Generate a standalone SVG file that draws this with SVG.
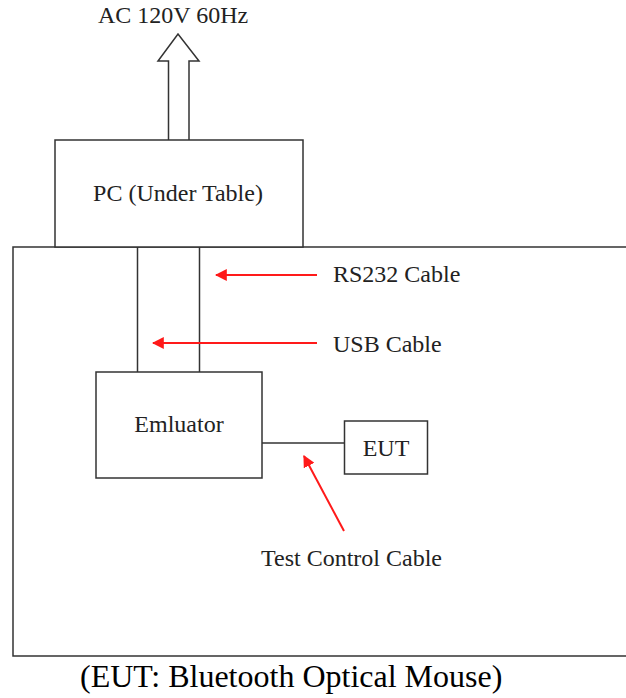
<svg xmlns="http://www.w3.org/2000/svg" width="626" height="698" viewBox="0 0 626 698">
  <style>
    .box { fill: #fff; stroke: #333; stroke-width: 1.5; }
    .wire { fill: none; stroke: #333; stroke-width: 1.5; }
    .lbl { font-family: "Liberation Serif", "Times New Roman", serif; font-size: 24px; fill: #222; }
    .cap { font-family: "Liberation Serif", "Times New Roman", serif; font-size: 32px; fill: #000; }
    .ptr { fill: none; stroke: #ff1a1a; stroke-width: 2; }
  </style>
  <defs>
    <marker id="redhead" viewBox="0 0 10 10" refX="9" refY="5" markerWidth="6" markerHeight="6" markerUnits="strokeWidth" orient="auto">
      <path d="M0,0 L10,5 L0,10 Z" fill="#ff1a1a"/>
    </marker>
  </defs>

  <!-- test room enclosure (open to the right) -->
  <g id="room">
    <path class="wire" d="M640,247 H13 V656 H640"/>
  </g>

  <!-- mains supply arrow -->
  <g id="ac-supply">
    <path class="box" d="M168.5,140 V61 H158 L178,34 L199,61 H189 V140"/>
    <text class="lbl" x="98" y="23">AC 120V 60Hz</text>
  </g>

  <g id="pc">
    <rect class="box" x="55" y="140" width="248" height="107"/>
    <text class="lbl" x="178" y="201" text-anchor="middle">PC (Under Table)</text>
  </g>

  <g id="connectors">
    <line class="wire" x1="137.5" y1="247" x2="137.5" y2="372"/>
    <line class="wire" x1="199.5" y1="247" x2="199.5" y2="372"/>
    <line class="wire" x1="262" y1="443" x2="344" y2="443"/>
  </g>

  <g id="emulator">
    <rect class="box" x="96" y="372" width="166" height="106"/>
    <text class="lbl" x="179" y="432" text-anchor="middle">Emluator</text>
  </g>

  <g id="eut">
    <rect class="box" x="344.5" y="421" width="83" height="53"/>
    <text class="lbl" x="386" y="456" text-anchor="middle">EUT</text>
  </g>

  <!-- cable callouts -->
  <g id="callouts">
    <line class="ptr" x1="317" y1="275" x2="216" y2="275" marker-end="url(#redhead)"/>
    <line class="ptr" x1="317" y1="343" x2="153" y2="343" marker-end="url(#redhead)"/>
    <line class="ptr" x1="344" y1="531" x2="304" y2="456" marker-end="url(#redhead)"/>
    <text class="lbl" x="333" y="282">RS232 Cable</text>
    <text class="lbl" x="333" y="352">USB Cable</text>
    <text class="lbl" x="261" y="566">Test Control Cable</text>
  </g>

  <text class="cap" x="80" y="687">(EUT: Bluetooth Optical Mouse)</text>
</svg>
